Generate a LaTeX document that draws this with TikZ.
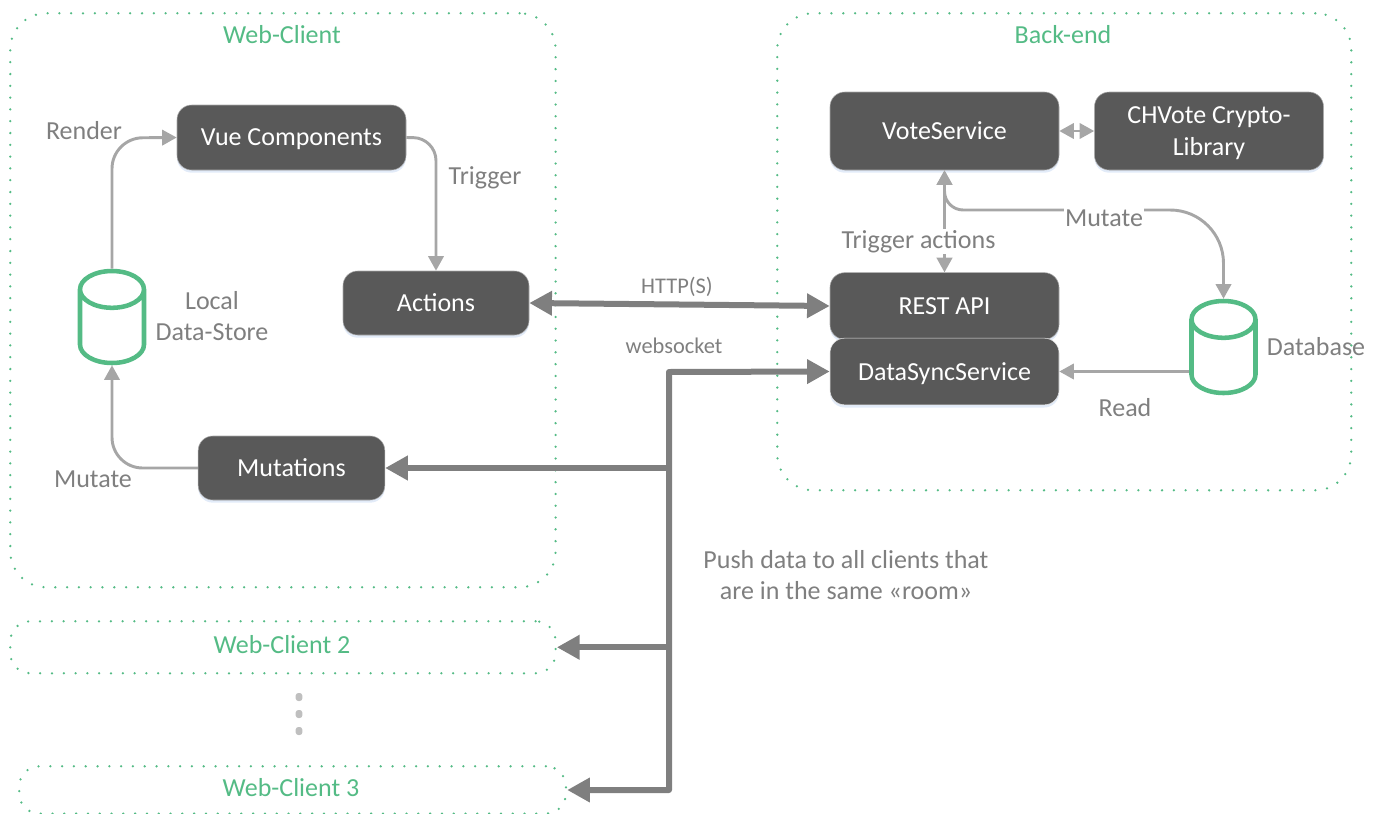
\documentclass[tikz,border=0pt]{standalone}
\usepackage{fontspec}
\setmainfont{Carlito}
\usetikzlibrary{arrows.meta,shapes.geometric,shadows}
\definecolor{mintgreen}{RGB}{84,187,133}
\definecolor{boxgrey}{RGB}{89,89,89}
\definecolor{thingrey}{RGB}{166,166,166}
\definecolor{thickgrey}{RGB}{127,127,127}
\tikzset{
  appbox/.style={draw={rgb,255:red,170;green,170;blue,170},fill=boxgrey,rounded corners=11pt,text=white,align=center,font=\fontsize{19.5}{24}\selectfont,inner sep=0pt,text depth=0pt,drop shadow={shadow xshift=0pt,shadow yshift=-2pt,fill={rgb,255:red,190;green,210;blue,240},opacity=0.45}},
  zonebox/.style={draw=mintgreen,line width=1.9pt,line cap=round,dash pattern=on 0pt off 8.85pt,anchor=north west,inner sep=0pt},
  zonetext/.style={text=mintgreen,font=\fontsize{19.5}{22}\selectfont},
  storecyl/.style={cylinder,shape border rotate=90,draw=mintgreen,line width=3.4pt,fill=white,aspect=1.15,minimum width=48pt,minimum height=69pt,inner sep=12pt,anchor=shape center},
  greytext/.style={text=thickgrey,align=center,font=\fontsize{19.5}{23}\selectfont},
  smalltext/.style={text=thickgrey,font=\fontsize{16.8}{18}\selectfont},
  thinline/.style={draw=thingrey,line width=2.2pt,-{Triangle[length=11pt,width=11.5pt]}},
  thinboth/.style={draw=thingrey,line width=2.2pt,{Triangle[length=11pt,width=11.5pt]}-{Triangle[length=11pt,width=11.5pt]}},
  thickline/.style={draw=thickgrey,line width=4.5pt,-{Triangle[length=17pt,width=17.5pt]}},
  thickboth/.style={draw=thickgrey,line width=4.5pt,{Triangle[length=17pt,width=17.5pt]}-{Triangle[length=17pt,width=17.5pt]}},
  gapdot/.style={rounded corners=2pt,fill={rgb,255:red,191;green,191;blue,191},minimum width=5pt,minimum height=6pt,inner sep=0pt}
}
\begin{document}
\begin{tikzpicture}[x=0.75pt,y=0.75pt,yscale=-1,xscale=1]
        \useasboundingbox (0,0) rectangle (1382,814);
        %Zones
        \node [zonebox,rounded corners=27pt,minimum width=409pt,minimum height=430.5pt] (clientzone) at (9,12) {};
        \node [zonebox,rounded corners=27pt,minimum width=430.5pt,minimum height=357.75pt] (backzone) at (776,12) {};
        \node [zonebox,rounded corners=15pt,minimum width=409pt,minimum height=39pt] (clienttwo) at (9,620) {};
        \node [zonebox,rounded corners=15pt,minimum width=410pt,minimum height=35.5pt] (clientthree) at (18,765) {};
        % Text Node
        \node [zonetext] (clienttitle) at (282,35) {Web-Client};
        \node [zonetext] (backtitle) at (1063,35) {Back-end};
        \node [zonetext] (clienttwotitle) at (282,645) {Web-Client 2};
        \node [zonetext] (clientthreetitle) at (291,788) {Web-Client 3};
        %Boxes
        \node [appbox,minimum width=171.75pt,minimum height=48.75pt] (vue) at (291.5,137.5) {Vue Components};
        \node [appbox,minimum width=139.5pt,minimum height=48pt] (actions) at (436,303) {Actions};
        \node [appbox,minimum width=140pt,minimum height=48pt] (mutations) at (291.5,468) {Mutations};
        \node [appbox,minimum width=171.75pt,minimum height=58.5pt] (vote) at (944.5,131) {VoteService};
        \node [appbox,minimum width=171.75pt,minimum height=58.5pt] (crypto) at (1209,131) {CHVote Crypto-\\Library};
        \node [appbox,minimum width=171.75pt,minimum height=50pt] (rest) at (944.5,306) {REST API};
        \node [appbox,draw=white!80!gray,minimum width=171.75pt,minimum height=50pt] (datasync) at (944.5,371.5) {DataSyncService};
        %Stores
        \node [storecyl] (localstore) at (112,317) {};
        \node [storecyl] (database) at (1223.5,347) {};
        %Thin connectors
        \draw [thinline,rounded corners=23pt] (localstore.north) -- (112,138) -- (vue.west);
        \draw [thinline,rounded corners=17pt] (vue.east) -- (436,138) -- (actions.north);
        \draw [thinline,rounded corners=23pt] (mutations.west) -- (112,468) -- (localstore.south);
        \draw [thinboth] (vote.east) -- (crypto.west);
        \draw [thinboth] (vote.south) -- node [greytext,fill=white,inner sep=1pt,pos=0.7,xshift=-19.5pt] (triggertext) {Trigger actions} (rest.north);
        \draw [thinboth] (database.north) [rounded corners=40pt] -- (1223.5,210) [rounded corners=14pt] -- (944.5,210) -- (vote.south);
        \node [greytext,fill=white,inner sep=1pt] (mutatetext) at (1104,218) {Mutate};
        \draw [thinline] (database.west |- datasync.east) -- (datasync.east);
        %Thick connectors
        \draw [thickboth] (actions.east) -- (rest.west);
        \coordinate (trunktop) at (669,372);
        \coordinate (trunkbottom) at (669,790);
        \draw [thickboth,line join=round] (datasync.west) -- (trunktop) -- (trunkbottom) -- (clientthree.east |- trunkbottom);
        \draw [thickline] (trunktop |- mutations.east) -- (mutations.east);
        \draw [thickline] (trunktop |- clienttwo.east) -- (clienttwo.east);
        %Dots
        \foreach \doty/\dotname in {697/dotone,714/dottwo,731/dotthree}
            \node [gapdot] (\dotname) at (299,\doty) {};
        % Text Node
        \node [greytext] (rendertext) at (84,131) {Render};
        \node [greytext] (triggerlabel) at (485,178) {Trigger};
        \node [greytext] (storetext) at (212,316) {Local\\Data-Store};
        \node [greytext] (mutatelabel) at (93,479) {Mutate};
        \node [greytext] (databasetext) at (1316,347) {Database};
        \node [greytext] (readtext) at (1125,408) {Read};
        \node [smalltext] (httptext) at (677,287) {HTTP(S)};
        \node [smalltext] (sockettext) at (674,346) {websocket};
        \node [greytext] (pushtext) at (846,575) {Push data to all clients that\\are in the same «room»};
\end{tikzpicture}
\end{document}
